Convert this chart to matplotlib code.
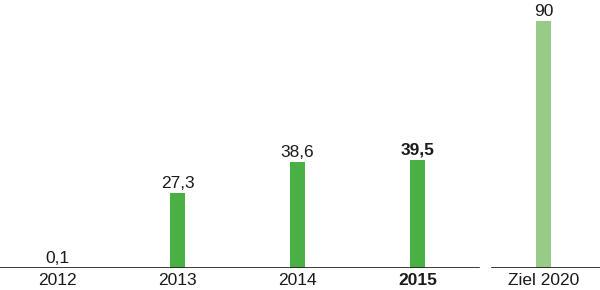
import matplotlib.pyplot as plt

# donnees
categories = ["2012", "2013", "2014", "2015", "Ziel 2020"]
valeurs = [0.1, 27.3, 38.6, 39.5, 90]
positions = [0, 1, 2, 3, 4.054]
couleurs = ["#4AB045", "#4AB045", "#4AB045", "#4AB045", "#98CB87"]
gras = [False, False, False, True, False]

plt.rcParams['font.family'] = ['Liberation Sans', 'DejaVu Sans']

fig = plt.figure(figsize=(6, 2.9), dpi=100)
ax = fig.add_axes([0, 22 / 290, 1, 268 / 290])
ax.set_xlim(-0.479, 4.521)
ax.set_ylim(0, 97.7)

ax.bar(positions, valeurs, width=0.125, color=couleurs, zorder=2)

for x, v, b in zip(positions, valeurs, gras):
    txt = ("%g" % v).replace(".", ",")
    ax.annotate(txt, (x, v), xytext=(0, 1.5), textcoords="offset points",
                ha="center", va="bottom", fontsize=12.5, color="#1a1a1a",
                fontweight="bold" if b else "normal")

# ligne de base coupee en deux
ax.axhline(0, xmin=0, xmax=0.798, color="#1a1a1a", lw=1.2, zorder=3)
ax.axhline(0, xmin=0.82, xmax=1, color="#1a1a1a", lw=1.2, zorder=3)

ax.set_xticks(positions)
ax.set_xticklabels(categories, fontsize=12.5, color="#1a1a1a")
for lab, b in zip(ax.get_xticklabels(), gras):
    if b:
        lab.set_fontweight("bold")
ax.tick_params(axis="x", length=0, pad=3.5)
ax.set_yticks([])
for s in ax.spines.values():
    s.set_visible(False)

fig.savefig("out.png", dpi=100)
